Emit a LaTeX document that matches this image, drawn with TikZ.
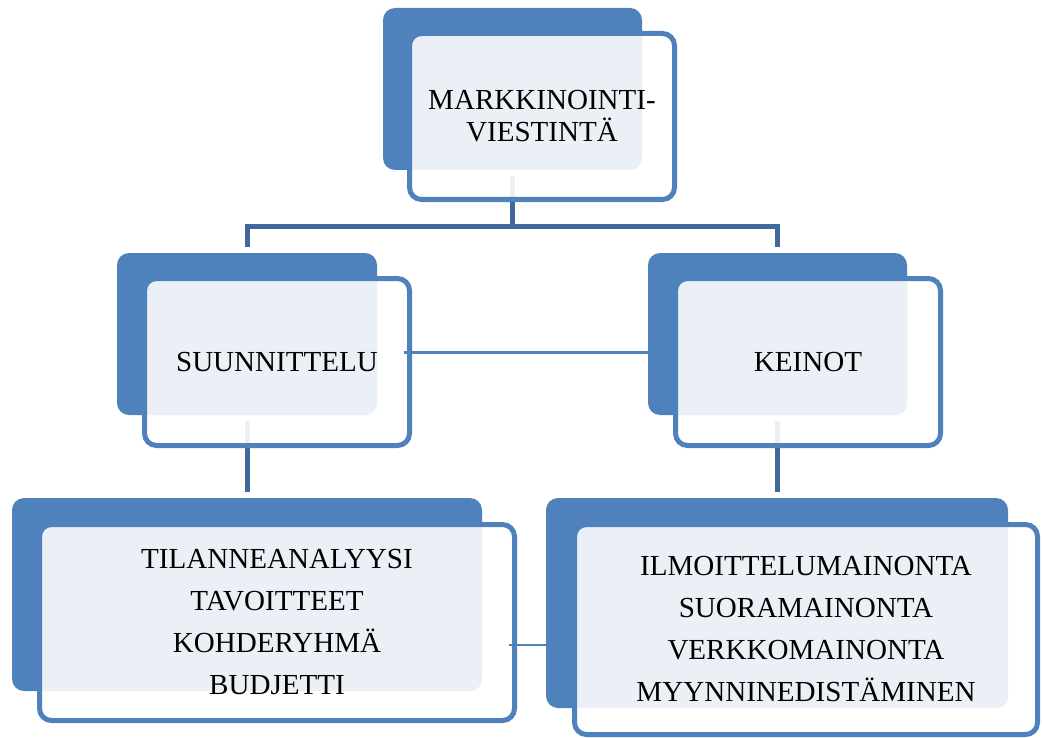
\documentclass[tikz,border=0pt]{standalone}
\usepackage{fontspec}
\setmainfont{Liberation Serif}
\usetikzlibrary{calc}
\definecolor{accent}{HTML}{4F81BD}
\definecolor{tint}{HTML}{EBF0F7}
\definecolor{trunk}{HTML}{41689D}
\tikzset{
  backpanel/.style={rectangle, inner sep=0pt, outer sep=0pt, fill=accent, rounded corners=9pt},
  frontpanel/.style={rectangle, inner sep=0pt, outer sep=0pt, fill=white, fill opacity=0.9, rounded corners=9pt},
  rim/.style={draw=accent, line width=3.75pt, rounded corners=9pt},
  tintfill/.style={fill=tint, rounded corners=9pt},
  boxtext/.style={inner sep=0pt, align=center, text=black, font=\fontsize{21.8}{31.5}\selectfont},
  trunkline/.style={draw=trunk, line width=3.75pt},
  crosslink/.style={draw=accent, line width=1.6pt},
}
% draws the tinted overlap of a back panel and its front panel, then the front rim
\newcommand{\panelface}[2]{%
  \begin{scope}
    \clip[rounded corners=9pt] (#2.south west) rectangle (#2.north east);
    \fill[tintfill] (#1.south west) rectangle (#1.north east);
  \end{scope}
  \draw[rim] (#2.south west) rectangle (#2.north east);
}
\begin{document}
\begin{tikzpicture}[x=0.75pt, y=-0.75pt]
  \useasboundingbox (0,0) rectangle (1042,738);

  % invisible placement of the panels (for connector anchors)
  \path
    (512.5,89)  node[minimum width=194.25pt, minimum height=121.5pt, inner sep=0pt, outer sep=0pt] (topback) {}
    (542,116.5) node[minimum width=198.75pt, minimum height=124.5pt, inner sep=0pt, outer sep=0pt] (topfront) {}
    (247,334)   node[minimum width=195pt, minimum height=121.5pt, inner sep=0pt, outer sep=0pt] (planback) {}
    (277,362)   node[minimum width=198.75pt, minimum height=125.25pt, inner sep=0pt, outer sep=0pt] (planfront) {}
    (777.5,334) node[minimum width=194.25pt, minimum height=121.5pt, inner sep=0pt, outer sep=0pt] (meansback) {}
    (808,362)   node[minimum width=198.75pt, minimum height=125.25pt, inner sep=0pt, outer sep=0pt] (meansfront) {}
    (247,594.5) node[minimum width=352.5pt, minimum height=144.75pt, inner sep=0pt, outer sep=0pt] (planlistback) {}
    (277,622.5) node[minimum width=356.25pt, minimum height=147pt, inner sep=0pt, outer sep=0pt] (planlistfront) {}
    (777,603)   node[minimum width=346.5pt, minimum height=157.5pt, inner sep=0pt, outer sep=0pt] (meanslistback) {}
    (806,629.5) node[minimum width=347.25pt, minimum height=157.5pt, inner sep=0pt, outer sep=0pt] (meanslistfront) {};

  % tree connectors, behind the panels
  \coordinate (bus) at (512,226);
  \draw[trunkline] ($(topback.south)+(0,6)$) -- (topback.south |- bus);
  \draw[trunkline] ($(planback.north)+(0,-6)$) |- (bus) -| ($(meansback.north)+(0,-6)$);
  \draw[trunkline] ($(planback.south)+(0,6)$) -- ($(planback.south |- planlistback.north)+(0,-6)$);
  \draw[trunkline] ($(meansback.south)+(0,6)$) -- ($(meansback.south |- meanslistback.north)+(0,-6)$);

  % panels
  \foreach \b/\f in {topback/topfront, planback/planfront, meansback/meansfront,
                     planlistback/planlistfront, meanslistback/meanslistfront}{
    \fill[accent, rounded corners=9pt] (\b.south west) rectangle (\b.north east);
    \fill[white, fill opacity=0.9, rounded corners=9pt] (\f.south west) rectangle (\f.north east);
    \panelface{\b}{\f}
  }

  % side links
  \coordinate (tierlink) at (0,352.5);
  \coordinate (listlink) at (0,645);
  \draw[crosslink] ($(planfront.east |- tierlink)+(-6,0)$) -- (meansback.west |- tierlink);
  \draw[crosslink] ($(planlistfront.east |- listlink)+(-6,0)$) -- (meanslistback.west |- listlink);

  % texts
  \node[boxtext, font=\fontsize{21.8}{24}\selectfont] (toptext) at (topfront.center) {MARKKINOINTI-\\VIESTINTÄ};
  \node[boxtext] (plantext) at (planfront.center) {SUUNNITTELU};
  \node[boxtext] (meanstext) at (meansfront.center) {KEINOT};
  \node[boxtext] (planlisttext) at (planlistfront.center) {TILANNEANALYYSI\\TAVOITTEET\\KOHDERYHMÄ\\BUDJETTI};
  \node[boxtext] (meanslisttext) at (meanslistfront.center) {ILMOITTELUMAINONTA\\SUORAMAINONTA\\VERKKOMAINONTA\\MYYNNINEDISTÄMINEN};
\end{tikzpicture}
\end{document}
